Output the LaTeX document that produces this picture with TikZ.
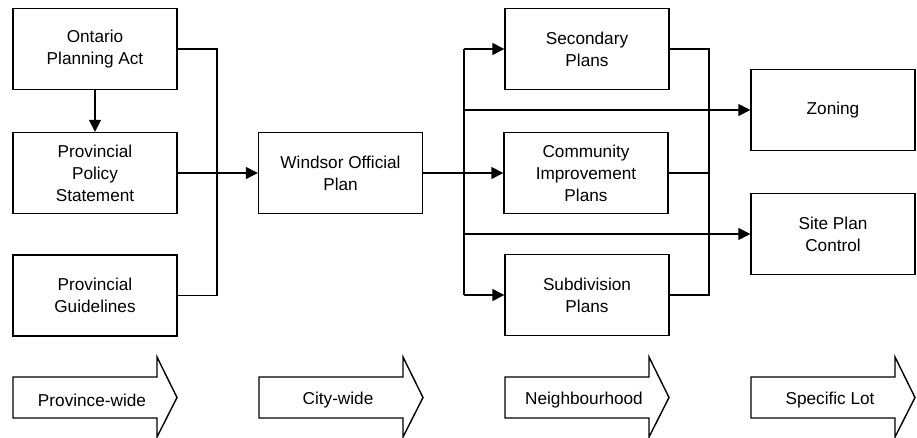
\documentclass[tikz,border=0pt]{standalone}
\usepackage{fontspec}
\setmainfont{Liberation Sans}
\usetikzlibrary{arrows.meta}
\begin{document}
\begin{tikzpicture}[x=1pt,y=-1pt,line width=1.4pt,
  box/.style={draw,minimum width=164pt,minimum height=81pt,align=center,inner sep=2pt,
    font=\fontsize{17.2}{22}\selectfont},
  arr/.style={-{Triangle[length=12pt,width=12pt]}},
  lbl/.style={font=\fontsize{17.2}{22}\selectfont,inner sep=1pt},
  bigarrow/.style={draw,line join=miter}]
\useasboundingbox (0,0) rectangle (917,438);
% boxes
\node[box] (onta) at (95,49) {Ontario\\Planning Act};
\node[box] (pps) at (95,173) {Provincial\\Policy\\Statement};
\node[box] (pg) at (95,295.5) {Provincial\\Guidelines};
\node[box] (wop) at (340.5,173) {Windsor Official\\Plan};
\node[box] (sec) at (587,49) {Secondary\\Plans};
\node[box] (cip) at (586,173) {Community\\Improvement\\Plans};
\node[box] (sub) at (587,295) {Subdivision\\Plans};
\node[box] (zon) at (833,110) {Zoning};
\node[box] (spc) at (833,234) {Site Plan\\Control};
% left side connectors
\draw[arr] (onta) -- (pps);
\coordinate (bl1) at (217,49);
\coordinate (bl2) at (217,295.5);
\draw (onta.east) -- (bl1) -- (bl2) -- (pg.east);
\draw[arr] (pps.east) -- (wop.west);
% middle connectors
\draw[arr] (wop.east) -- (cip.west);
\coordinate (br1) at (464,49);
\coordinate (br2) at (464,295);
\coordinate (brz) at (464,110);
\coordinate (brs) at (464,234);
\draw (br1) -- (br2);
\draw[arr] (br1) -- (sec.west);
\draw[arr] (br2) -- (sub.west);
\draw[arr] (brz) -- (zon.west);
\draw[arr] (brs) -- (spc.west);
% right collector
\coordinate (rc1) at (709,49);
\coordinate (rc2) at (709,295);
\coordinate (rcm) at (709,173);
\draw (sec.east) -- (rc1) -- (rc2) -- (sub.east);
\draw (cip.east) -- (rcm);
% bottom arrows
\foreach \xl/\name/\txt in {13/a1/Province-wide,259/a2/City-wide,505/a3/Neighbourhood,751/a4/Specific Lot}{
  \draw[bigarrow] (\xl,377) -- (\xl+144,377) -- (\xl+144,357) -- (\xl+164,397.5)
     -- (\xl+144,437) -- (\xl+144,418) -- (\xl,418) -- cycle;
  \node[lbl] (\name) at (\xl+79,400) {\txt};
}
\end{tikzpicture}
\end{document}
